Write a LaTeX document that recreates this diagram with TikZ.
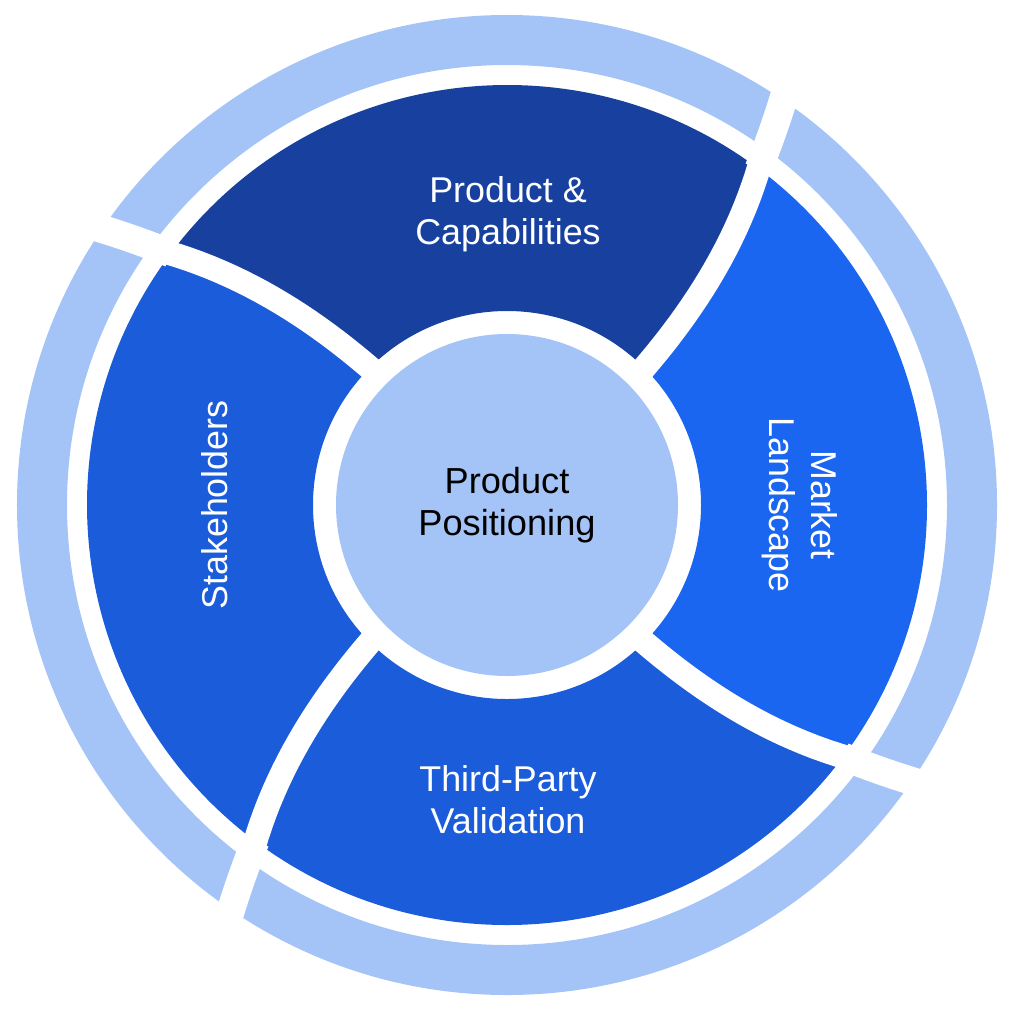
\documentclass[tikz,border=0pt]{standalone}
\usepackage{fontspec}
\setmainfont{Liberation Sans}
\definecolor{segtop}{RGB}{24,65,159}
\definecolor{segside}{RGB}{27,92,218}
\definecolor{segright}{RGB}{26,102,240}
\definecolor{ringlight}{RGB}{164,195,247}

\begin{document}
\begin{tikzpicture}
[gap/.style={draw=white,line width=2.4mm}
,wgap/.style={gap,line width=2.8mm}
,lbl/.style={text=white,align=center,font=\fontsize{10.2}{12}\selectfont}
,hub/.style={circle,fill=ringlight,minimum size=3.42cm,inner sep=0pt,align=center,font=\fontsize{10.3}{12}\selectfont}
,declare function={swirl(\r)=2.29*(\r-1.94)+0.592*(\r-1.94)^2;
   oswirl(\r)=swirl(4.2)+3.6*(\r-4.2);}]
\useasboundingbox (-5.07,-5.05) rectangle (5.13,5.05);
% outer ring
\fill[ringlight,even odd rule] (0,0) circle (4.9) (0,0) circle (4.4);
% four segments with curved sides
\foreach \a/\c [evaluate=\a as \b using \a+90] in {45/segtop,135/segside,225/segside,315/segright}
  \fill[\c] plot[domain=1.94:4.2,samples=25] ({\a+swirl(\x)}:\x)
    arc[start angle=\a+swirl(4.2),end angle=\b+swirl(4.2),radius=4.2]
    -- plot[domain=0:2.26,samples=25] ({\b+swirl(4.2-\x)}:{4.2-\x})
    arc[start angle=\b,end angle=\a,radius=1.94] -- cycle;
% white separators
\foreach \a in {45,135,225,315}{
  \draw[gap] plot[domain=1.6:4.25,samples=25] ({\a+swirl(\x)}:\x);
  \draw[wgap] plot[domain=4.2:5.0,samples=10] ({\a+oswirl(\x)}:\x);
}
\node[hub] (hub) at (0,0) {Product\\Positioning};
\node[lbl] (prod) at (0.01,2.91) {Product \&\\Capabilities};
\node[lbl,rotate=90] (stake) at (-2.92,0) {Stakeholders};
\node[lbl,rotate=-90] (market) at (2.93,0) {Market\\Landscape};
\node[lbl] (third) at (0.01,-2.95) {Third-Party\\Validation};
\end{tikzpicture}
\end{document}
